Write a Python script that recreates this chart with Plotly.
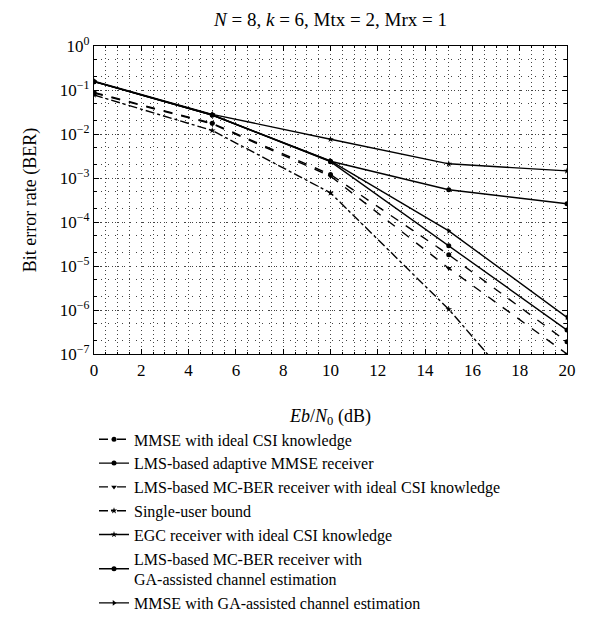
import plotly.graph_objects as go

snr = [0, 5, 10, 15, 20]

mmse_ideal = [0.088, 0.0175, 1.2e-3, 1.8e-5, 1.9e-7]
lms_adaptive_mmse = [0.155, 0.027, 2.4e-3, 5.4e-4, 2.6e-4]
lms_mcber_ideal = [0.085, 0.0170, 1.1e-3, 8.9e-6, 1.0e-7]
single_user = [0.077, 0.012, 4.6e-4, 1.04e-6, 8e-10]
egc_ideal = [0.158, 0.028, 7.6e-3, 2.1e-3, 1.45e-3]
lms_mcber_ga = [0.155, 0.027, 2.35e-3, 2.9e-5, 3.5e-7]
mmse_ga = [0.155, 0.027, 2.45e-3, 6.3e-5, 6.8e-7]

names = [
    "MMSE with ideal CSI knowledge",
    "LMS-based adaptive MMSE receiver",
    "LMS-based MC-BER receiver with ideal CSI knowledge",
    "Single-user bound",
    "EGC receiver with ideal CSI knowledge",
    "LMS-based MC-BER receiver with<br>GA-assisted channel estimation",
    "MMSE with GA-assisted channel estimation",
]
series = [mmse_ideal, lms_adaptive_mmse, lms_mcber_ideal, single_user,
          egc_ideal, lms_mcber_ga, mmse_ga]
dashes = ["dash", "solid", "dash", "dashdot", "solid", "solid", "solid"]
symbols = ["circle", "circle", "triangle-down", "star", "star", "circle", "triangle-right"]

yt_vals = [10 ** -k for k in range(0, 8)]
yt_text = ["10<sup>%s</sup>" % ("0" if k == 0 else "\u2212%d" % k) for k in range(0, 8)]

FONT = "Liberation Serif"
GRID = "#444"

fig = go.Figure()
for nm, ys, d, s in zip(names, series, dashes, symbols):
    fig.add_trace(go.Scatter(
        x=snr, y=ys, mode="lines+markers", name=nm,
        line=dict(color="black", width=1.4, dash=d),
        marker=dict(symbol=s, size=5, color="black"),
    ))

axis_common = dict(
    showline=True, linecolor="black", linewidth=1.2, mirror="ticks",
    ticks="inside", tickcolor="black", ticklen=5,
    showgrid=True, gridcolor=GRID, gridwidth=1,
    zeroline=False, tickfont=dict(family=FONT, size=17, color="black"),
)

fig.update_layout(
    width=600, height=638,
    margin=dict(l=86, r=41, t=38, b=292),
    paper_bgcolor="white", plot_bgcolor="white",
    font=dict(family=FONT, color="black", size=16),
    title=dict(text="<i>N</i> = 8, <i>k</i> = 6, Mtx = 2, Mrx = 1",
               x=0.5, xref="paper", xanchor="center",
               y=1, yref="paper", yanchor="bottom", pad=dict(b=20),
               font=dict(family=FONT, size=19, color="black")),
    xaxis=dict(range=[0, 20], dtick=2, tick0=0, griddash="1px,3px",
               minor=dict(dtick=0.5, showgrid=True, gridcolor=GRID,
                          griddash="1px,3px", gridwidth=1, ticks="inside", ticklen=2),
               title=dict(text="<i>Eb</i>/<i>N</i><sub>0</sub> (dB)",
                          font=dict(family=FONT, size=18), standoff=30),
               **axis_common),
    yaxis=dict(type="log", range=[-7, 0], tickvals=yt_vals, ticktext=yt_text,
               griddash="1px,5px",
               minor=dict(showgrid=True, gridcolor=GRID, griddash="1px,6px",
                          gridwidth=1, ticks="inside", ticklen=3),
               title=dict(text="Bit error rate (BER)",
                          font=dict(family=FONT, size=18), standoff=18),
               **axis_common),
    legend=dict(x=0.0, xanchor="left", y=-0.222, yanchor="top",
                font=dict(family=FONT, size=16, color="black"),
                bgcolor="rgba(0,0,0,0)", tracegroupgap=0, itemwidth=30),
    showlegend=True,
)

fig.write_html("out.html")
